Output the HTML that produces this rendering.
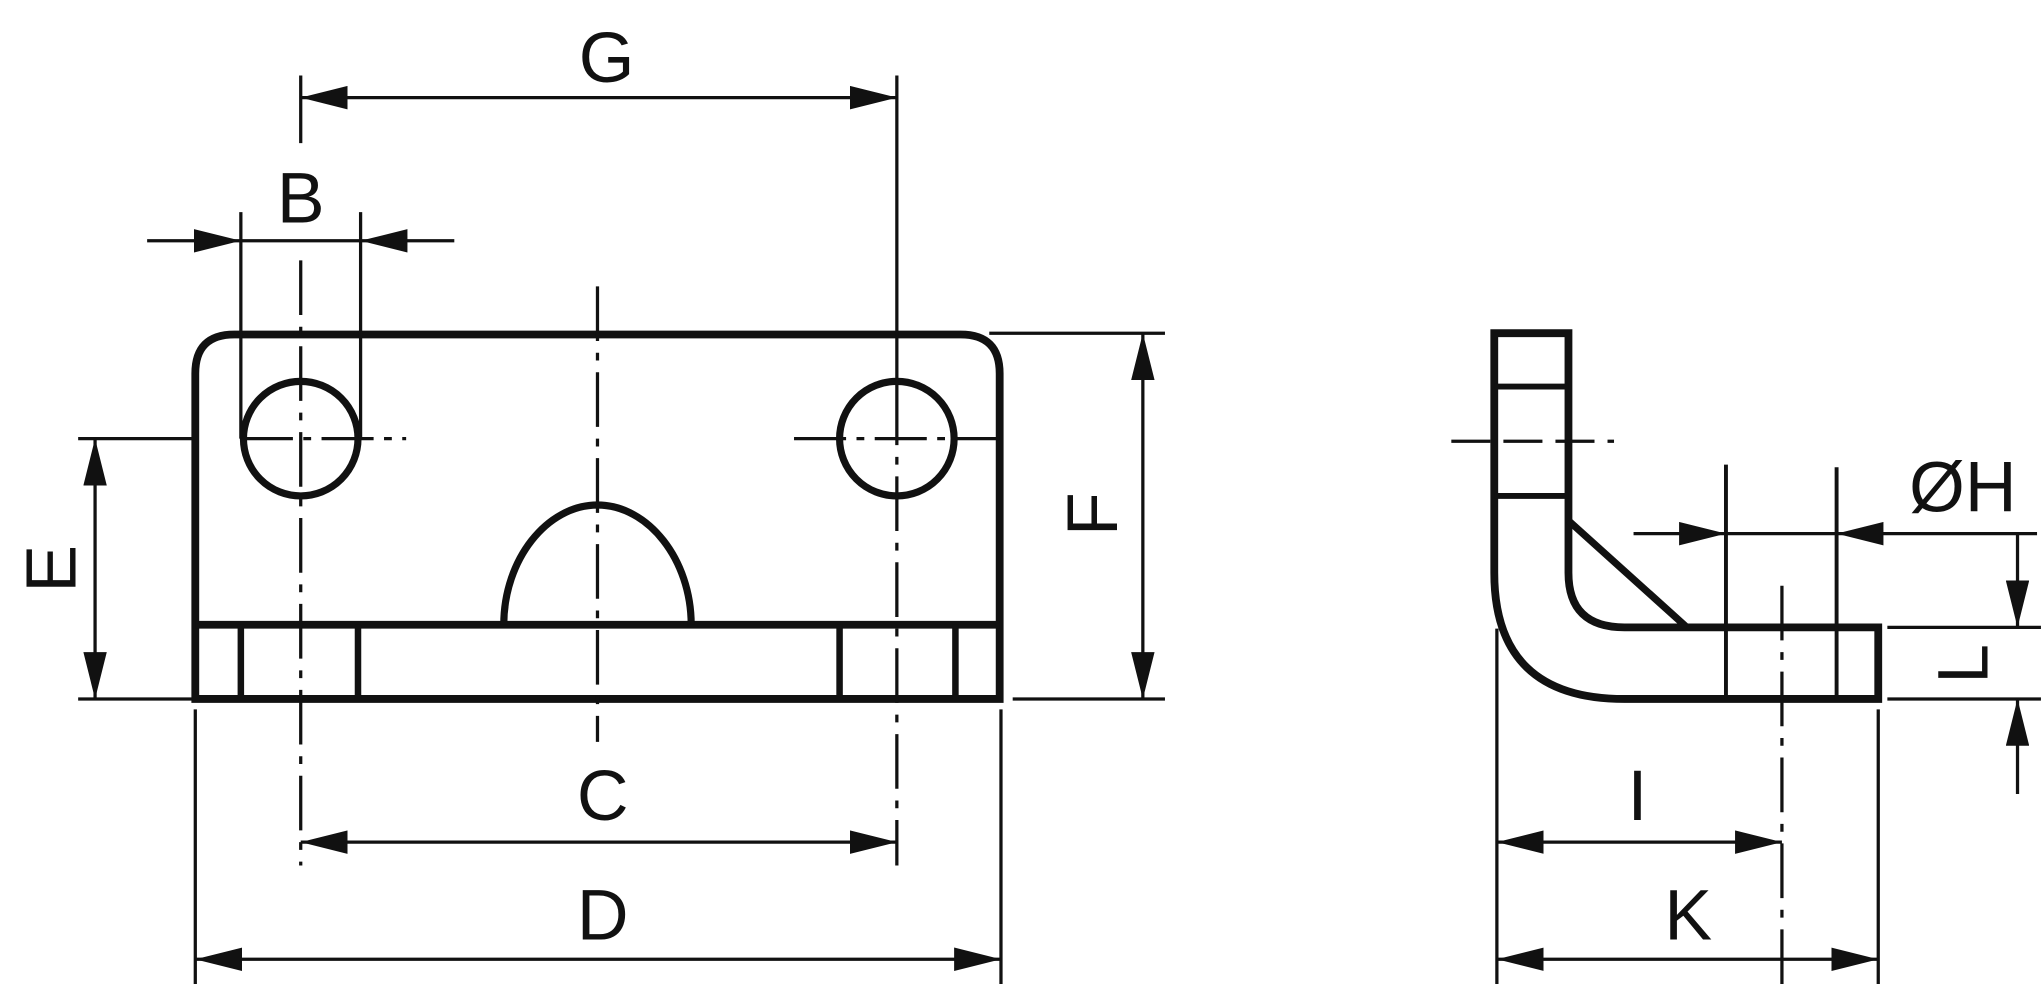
<!DOCTYPE html>
<html><head><meta charset="utf-8"><style>html,body{margin:0;padding:0;background:#fff;overflow:hidden}svg{display:block}</style></head>
<body>
<svg width="2041" height="984" viewBox="0 0 1568 756" xmlns="http://www.w3.org/2000/svg">
<defs>
<marker id="a" viewBox="0 0 36 18" refX="36" refY="9" markerWidth="36" markerHeight="18" markerUnits="userSpaceOnUse" orient="auto-start-reverse"><path d="M0,0 L36,9 L0,18 Z" fill="#111"/></marker>
</defs>
<rect width="1568" height="756" fill="#fff"/>
<g stroke="#111" fill="none" stroke-linecap="butt">
<path d="M150,537 L150,287 Q150,257 180,257 L738,257 Q768,257 768,287 L768,537 Z" stroke-width="6"/>
<line x1="150" y1="480" x2="768" y2="480" stroke-width="6"/>
<line x1="185" y1="480" x2="185" y2="537" stroke-width="5"/>
<line x1="275" y1="480" x2="275" y2="537" stroke-width="5"/>
<line x1="645" y1="480" x2="645" y2="537" stroke-width="5"/>
<line x1="734" y1="480" x2="734" y2="537" stroke-width="5"/>
<circle cx="231" cy="337" r="44" stroke-width="5.5"/>
<circle cx="689" cy="337" r="44" stroke-width="5.5"/>
<path d="M387,480 C387,430 420,388 459,388 C498,388 531,430 531,480" stroke-width="5.5"/>
<g stroke-width="2.5" stroke-dasharray="42,9,6,9">
<line x1="231" y1="200" x2="231" y2="665"/>
<line x1="689" y1="300" x2="689" y2="665"/>
<line x1="459" y1="220" x2="459" y2="570"/>
</g>
<g stroke-width="2.5" stroke-dasharray="40,8,6,8">
<line x1="185" y1="337" x2="312" y2="337"/>
<line x1="610" y1="337" x2="768" y2="337"/>
</g>
<g stroke-width="2.5">
<line x1="689" y1="58" x2="689" y2="300"/>
<line x1="231" y1="58" x2="231" y2="110"/>
<line x1="185" y1="163" x2="185" y2="337"/>
<line x1="277" y1="163" x2="277" y2="337"/>
<line x1="60" y1="337" x2="148" y2="337"/>
<line x1="60" y1="537" x2="148" y2="537"/>
<line x1="760" y1="256" x2="895" y2="256"/>
<line x1="778" y1="537" x2="895" y2="537"/>
<line x1="150" y1="545" x2="150" y2="756"/>
<line x1="769" y1="545" x2="769" y2="756"/>
<line x1="231" y1="75" x2="689" y2="75" marker-start="url(#a)" marker-end="url(#a)"/>
<line x1="113" y1="185" x2="185" y2="185" marker-end="url(#a)"/>
<line x1="349" y1="185" x2="277" y2="185" marker-end="url(#a)"/>
<line x1="185" y1="185" x2="277" y2="185"/>
<line x1="73" y1="337" x2="73" y2="537" marker-start="url(#a)" marker-end="url(#a)"/>
<line x1="878" y1="256" x2="878" y2="537" marker-start="url(#a)" marker-end="url(#a)"/>
<line x1="231" y1="647" x2="689" y2="647" marker-start="url(#a)" marker-end="url(#a)"/>
<line x1="150" y1="737" x2="769" y2="737" marker-start="url(#a)" marker-end="url(#a)"/>
</g>
<!-- SIDE VIEW -->
<path d="M1148,256 L1205,256 L1205,440 Q1205,482 1248,482 L1443,482 L1443,537 L1248,537 Q1148,537 1148,440 Z" stroke-width="6"/>
<line x1="1148" y1="297" x2="1205" y2="297" stroke-width="4.5"/>
<line x1="1148" y1="381" x2="1205" y2="381" stroke-width="4.5"/>
<line x1="1205" y1="400" x2="1296" y2="482" stroke-width="5.5"/>
<line x1="1326" y1="357" x2="1326" y2="537" stroke-width="3"/>
<line x1="1411" y1="359" x2="1411" y2="537" stroke-width="3"/>
<g stroke-width="2.5" stroke-dasharray="42,9,6,9">
<line x1="1369" y1="450" x2="1369" y2="756"/>
</g>
<g stroke-width="2.5" stroke-dasharray="30,10">
<line x1="1115" y1="339" x2="1240" y2="339"/>
</g>
<g stroke-width="2.5">
<line x1="1150" y1="483" x2="1150" y2="756"/>
<line x1="1443" y1="545" x2="1443" y2="756"/>
<line x1="1450" y1="482" x2="1568" y2="482"/>
<line x1="1450" y1="537" x2="1568" y2="537"/>
<line x1="1255" y1="410" x2="1326" y2="410" marker-end="url(#a)"/>
<line x1="1326" y1="410" x2="1411" y2="410"/>
<line x1="1565" y1="410" x2="1411" y2="410" marker-end="url(#a)"/>
<line x1="1550" y1="410" x2="1550" y2="482" marker-end="url(#a)"/>
<line x1="1550" y1="610" x2="1550" y2="537" marker-end="url(#a)"/>
<line x1="1150" y1="647" x2="1369" y2="647" marker-start="url(#a)" marker-end="url(#a)"/>
<line x1="1150" y1="737" x2="1443" y2="737" marker-start="url(#a)" marker-end="url(#a)"/>
</g>
</g>
<g font-family="Liberation Sans, sans-serif" font-size="55" fill="#111" text-anchor="middle">
<text x="466" y="63">G</text>
<text x="231" y="171">B</text>
<text x="463" y="630">C</text>
<text x="463" y="722">D</text>
<text x="1258" y="630">I</text>
<text x="1297" y="722">K</text>
<text x="1508" y="393">ØH</text>
<text transform="translate(58,437) rotate(-90)">E</text>
<text transform="translate(858,395) rotate(-90)">F</text>
<text transform="translate(1527,510) rotate(-90)">L</text>
</g>
</svg>
</body></html>
